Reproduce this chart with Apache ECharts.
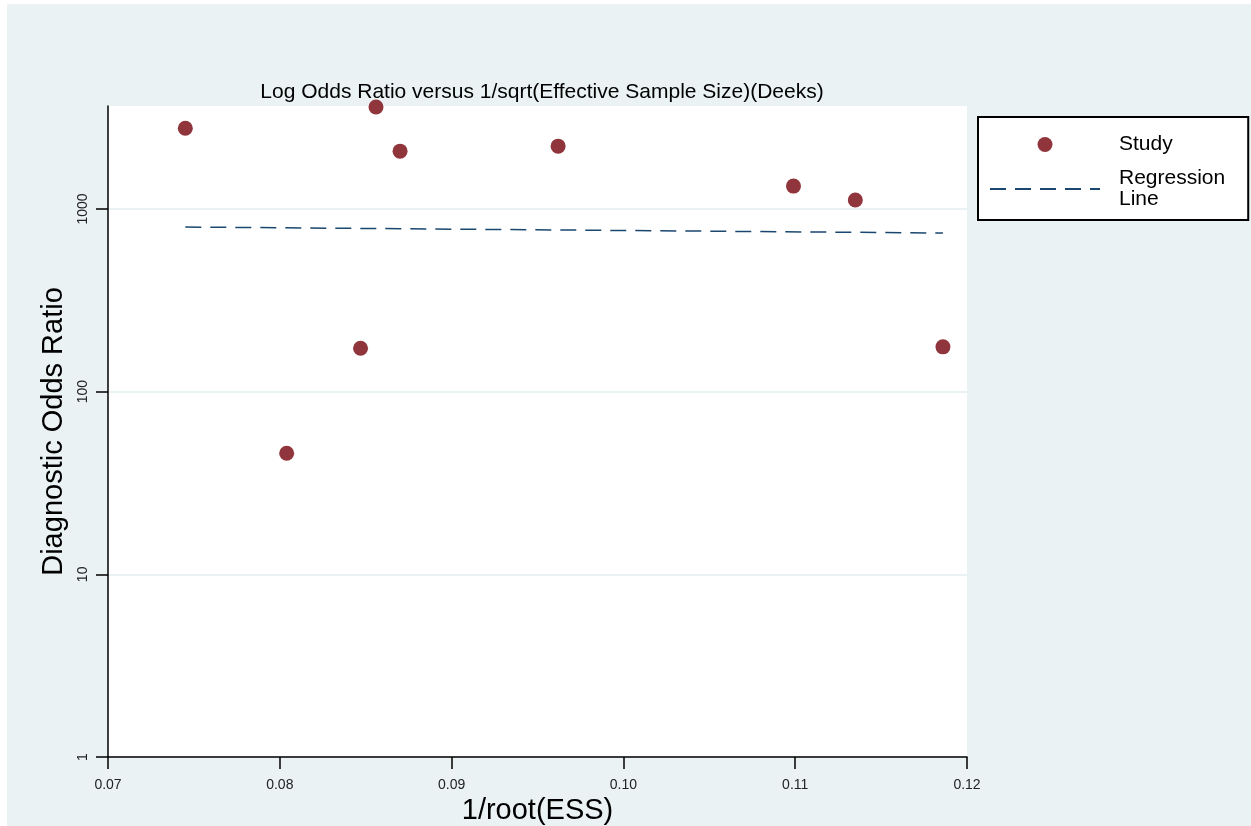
<!DOCTYPE html>
<html>
<head>
<meta charset="utf-8">
<script src="https://cdn.jsdelivr.net/npm/echarts@6/dist/echarts.min.js"></script>
<style>
  html, body { margin: 0; padding: 0; background: #fff; }
  #main { position: absolute; left: 7px; top: 4px; width: 1244px; height: 822px; }
</style>
</head>
<body>
<div id="main"></div>
<script>
// study points: 1/sqrt(ESS) and diagnostic odds ratio
const studyX = [0.0745, 0.0804, 0.0847, 0.0856, 0.0870, 0.0962, 0.1099, 0.1135, 0.1186];
const studyDOR = [2770, 46, 173, 3620, 2075, 2210, 1335, 1120, 176];

// fitted regression line ends
const regX = [0.0745, 0.1186];
const regDOR = [797, 739];

const xTicks = [0.07, 0.08, 0.09, 0.10, 0.11, 0.12];
const yTicks = [1, 10, 100, 1000];

const font = 'Liberation Sans, Arial, sans-serif';
const chart = echarts.init(document.getElementById('main'));

chart.setOption({
  backgroundColor: '#eaf2f3',
  animation: false,
  title: {
    text: 'Log Odds Ratio versus 1/sqrt(Effective Sample Size)(Deeks)',
    left: 530,
    top: 73,
    textAlign: 'center',
    textStyle: { fontFamily: font, fontSize: 21, fontWeight: 'normal', color: '#000' }
  },
  legend: {
    orient: 'vertical',
    left: 971,
    top: 113,
    backgroundColor: '#fff',
    borderColor: '#000',
    borderWidth: 2,
    borderRadius: 0,
    padding: [17, 23, 10, 11],
    itemWidth: 110,
    itemHeight: 15,
    itemGap: 13,
    textStyle: { fontFamily: font, fontSize: 21, color: '#000', lineHeight: 21, padding: [0, 0, 0, 14] },
    formatter: function (name) { return name === 'Regression Line' ? 'Regression\nLine' : name; },
    data: ['Study', { name: 'Regression Line', itemStyle: { opacity: 0 } }]
  },
  grid: {
    left: 101, top: 102, width: 859, height: 651,
    outerBoundsMode: 'none',
    containLabel: false,
    show: true, backgroundColor: '#fff', borderWidth: 0
  },
  xAxis: {
    type: 'value',
    min: 0.07, max: 0.12, interval: 0.01,
    name: '1/root(ESS)',
    nameLocation: 'middle',
    nameGap: 20,
    nameTextStyle: { fontFamily: font, fontSize: 29, color: '#000' },
    axisLine: { lineStyle: { color: '#000', width: 1.5 } },
    axisTick: { length: 12, lineStyle: { color: '#000', width: 1.5 }, customValues: xTicks },
    axisLabel: {
      fontFamily: font, fontSize: 14, color: '#222', margin: 21,
      customValues: xTicks,
      formatter: function (v) { return v.toFixed(2); }
    },
    splitLine: { show: false }
  },
  yAxis: {
    type: 'log',
    logBase: 10,
    min: 1, max: 3665,
    name: 'Diagnostic Odds Ratio',
    nameLocation: 'middle',
    nameGap: 33,
    nameTextStyle: { fontFamily: font, fontSize: 29, color: '#000' },
    axisLine: { lineStyle: { color: '#000', width: 1.5 } },
    axisTick: { length: 12, lineStyle: { color: '#000', width: 1.5 }, customValues: yTicks },
    axisLabel: {
      fontFamily: font, fontSize: 14, color: '#222', margin: 18, rotate: 90,
      customValues: yTicks,
      formatter: function (v) { return String(Math.round(v)); }
    },
    splitLine: { show: true, lineStyle: { color: '#eaf2f3', width: 2 } }
  },
  series: [
    {
      name: 'Study',
      type: 'scatter',
      symbol: 'circle',
      symbolSize: 15,
      itemStyle: { color: '#90353b', opacity: 1 },
      data: studyX.map(function (x, i) { return [x, studyDOR[i]]; }),
      z: 3
    },
    {
      name: 'Regression Line',
      type: 'line',
      symbol: 'none',
      itemStyle: { color: '#1a476f' },
      lineStyle: { color: '#1a476f', width: 1.5, type: [16, 9] },
      data: regX.map(function (x, i) { return [x, regDOR[i]]; }),
      z: 2
    }
  ]
});
</script>
</body>
</html>
